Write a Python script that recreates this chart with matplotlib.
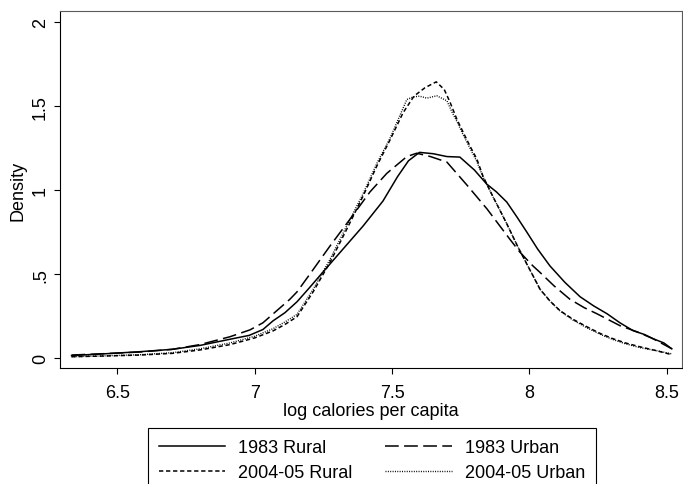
import matplotlib
matplotlib.use("Agg")
import matplotlib.pyplot as plt

plt.rcParams['font.family'] = ['Liberation Sans', 'DejaVu Sans']

# 1983 Rural
x_r83 = [6.333, 6.45, 6.583, 6.70, 6.80, 6.91, 6.98, 7.03, 7.067, 7.11, 7.154, 7.20, 7.249,
         7.322, 7.395, 7.467, 7.52, 7.56, 7.60, 7.65, 7.70, 7.747, 7.80, 7.845, 7.88, 7.918,
         7.955, 7.991, 8.03, 8.075, 8.13, 8.185, 8.235, 8.283, 8.33, 8.378, 8.42, 8.451, 8.49, 8.519]
y_r83 = [0.015, 0.025, 0.038, 0.052, 0.075, 0.112, 0.135, 0.17, 0.222, 0.27, 0.335, 0.42, 0.513,
         0.65, 0.787, 0.935, 1.08, 1.175, 1.225, 1.217, 1.20, 1.197, 1.12, 1.036, 0.99, 0.929,
         0.84, 0.75, 0.65, 0.549, 0.45, 0.365, 0.31, 0.264, 0.21, 0.163, 0.14, 0.115, 0.09, 0.055]

# 1983 Urban
x_u83 = [6.333, 6.45, 6.583, 6.70, 6.80, 6.91, 6.983, 7.03, 7.067, 7.128, 7.154, 7.201, 7.274,
         7.347, 7.42, 7.481, 7.554, 7.59, 7.64, 7.70, 7.773, 7.846, 7.929, 7.966, 8.013, 8.039,
         8.09, 8.148, 8.20, 8.246, 8.33, 8.391, 8.451, 8.519]
y_u83 = [0.018, 0.026, 0.036, 0.052, 0.08, 0.127, 0.168, 0.21, 0.263, 0.35, 0.394, 0.50, 0.667,
         0.827, 0.99, 1.10, 1.20, 1.22, 1.20, 1.167, 1.03, 0.888, 0.708, 0.63, 0.549, 0.51,
         0.43, 0.35, 0.30, 0.264, 0.193, 0.157, 0.115, 0.055]

# 2004-05 Rural
x_r04 = [6.333, 6.45, 6.583, 6.70, 6.80, 6.91, 7.0, 7.067, 7.11, 7.154, 7.213, 7.275, 7.336,
         7.395, 7.445, 7.493, 7.54, 7.58, 7.62, 7.661, 7.69, 7.711, 7.736, 7.759, 7.784, 7.809,
         7.831, 7.868, 7.918, 7.959, 7.991, 8.039, 8.075, 8.112, 8.16, 8.21, 8.26, 8.305, 8.35,
         8.403, 8.46, 8.519]
y_r04 = [0.008, 0.012, 0.018, 0.028, 0.048, 0.08, 0.12, 0.162, 0.20, 0.246, 0.395, 0.573, 0.77,
         0.966, 1.145, 1.30, 1.46, 1.56, 1.61, 1.645, 1.60, 1.525, 1.423, 1.345, 1.262, 1.185,
         1.084, 0.96, 0.80, 0.66, 0.56, 0.41, 0.34, 0.282, 0.23, 0.186, 0.145, 0.115, 0.09,
         0.067, 0.045, 0.02]

# 2004-05 Urban
x_u04 = [6.333, 6.45, 6.583, 6.70, 6.80, 6.91, 7.0, 7.067, 7.11, 7.154, 7.213, 7.275, 7.336,
         7.395, 7.445, 7.493, 7.554, 7.577, 7.60, 7.627, 7.663, 7.70, 7.72, 7.736, 7.759, 7.784,
         7.809, 7.831, 7.868, 7.918, 7.959, 7.991, 8.039, 8.075, 8.112, 8.16, 8.21, 8.26, 8.305,
         8.35, 8.403, 8.46, 8.519]
y_u04 = [0.008, 0.013, 0.02, 0.032, 0.055, 0.09, 0.13, 0.175, 0.215, 0.26, 0.41, 0.59, 0.79,
         0.98, 1.16, 1.31, 1.54, 1.555, 1.56, 1.548, 1.562, 1.532, 1.46, 1.41, 1.33, 1.25,
         1.17, 1.08, 0.96, 0.80, 0.66, 0.56, 0.41, 0.34, 0.28, 0.225, 0.18, 0.14, 0.11,
         0.085, 0.062, 0.045, 0.025]

x_ticks = [6.5, 7, 7.5, 8, 8.5]
x_tick_labels = ["6.5", "7", "7.5", "8", "8.5"]
y_ticks = [0, 0.5, 1, 1.5, 2]
y_tick_labels = ["0", ".5", "1", "1.5", "2"]
labels = ["1983 Rural", "1983 Urban", "2004-05 Rural", "2004-05 Urban"]

W, H = 683, 485
fig = plt.figure(figsize=(W / 100, H / 100), dpi=100)
ax = fig.add_axes([60 / W, 1 - 369.3 / H, (682 - 60) / W, (369.3 - 12) / H])

lw = 1.1
l1, = ax.plot(x_r83, y_r83, color='black', lw=lw, linestyle='-', label=labels[0])
l2, = ax.plot(x_u83, y_u83, color='black', lw=lw, linestyle=(0, (9, 3.5)), label=labels[1])
l3, = ax.plot(x_r04, y_r04, color='black', lw=lw, linestyle=(0, (2.8, 1.8)), label=labels[2])
l4, = ax.plot(x_u04, y_u04, color='black', lw=1.0, linestyle=(0, (0.7, 1.0)), label=labels[3])

ax.set_xlim(6.291, 8.556)
ax.set_ylim(-0.061, 2.067)
ax.set_xticks(x_ticks)
ax.set_xticklabels(x_tick_labels)
ax.set_yticks(y_ticks)
ax.set_yticklabels(y_tick_labels, rotation=90, va='center')

fs = 13
ax.tick_params(axis='both', direction='out', length=4.5, width=0.8, labelsize=fs, color='black')
ax.tick_params(axis='x', pad=6.5)
ax.tick_params(axis='y', pad=3.5)

for s in ['left', 'bottom']:
    ax.spines[s].set_color('black')
    ax.spines[s].set_linewidth(0.8)
for s in ['top', 'right']:
    ax.spines[s].set_color('#5a5a5a')
    ax.spines[s].set_linewidth(0.8)

ax.set_xlabel("log calories per capita", fontsize=fs, labelpad=1)
ax.set_ylabel("Density", fontsize=fs, labelpad=4)

leg = fig.legend([l1, l3, l2, l4], [labels[0], labels[2], labels[1], labels[3]],
                 ncol=2, loc='upper center', bbox_to_anchor=(372 / W, 1 - 429 / H),
                 frameon=True, fancybox=False, edgecolor='black', framealpha=1,
                 borderaxespad=0, handlelength=3.7, handletextpad=0.72,
                 columnspacing=1.8, labelspacing=0.45, fontsize=fs, borderpad=0.6)
leg.get_frame().set_linewidth(0.8)

fig.savefig("out.png", dpi=100)
